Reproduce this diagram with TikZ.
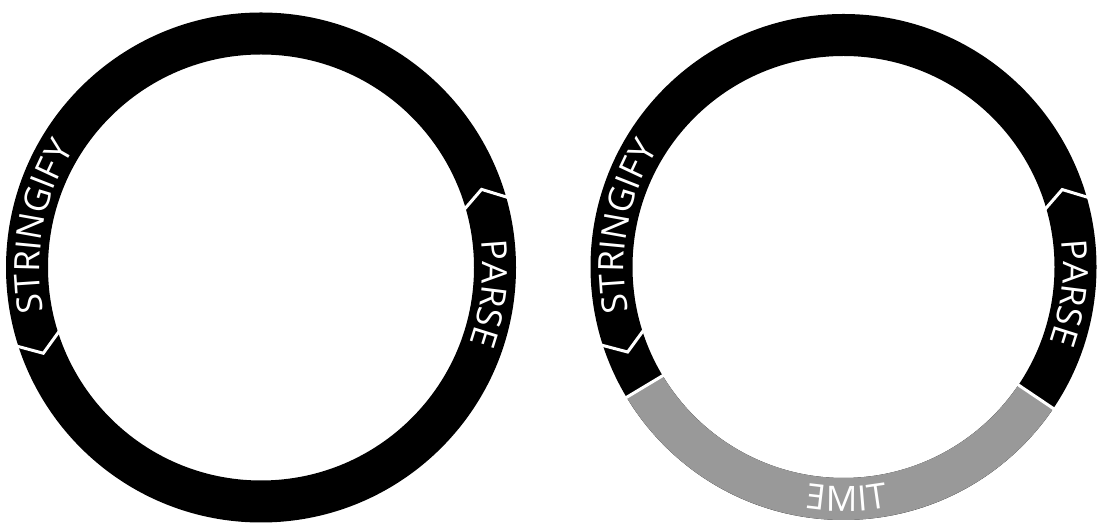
\documentclass[tikz,border=0pt]{standalone}
\usepackage{fontspec}
\newfontfamily\ringfont{Open Sans}
\usetikzlibrary{decorations.text,calc}
\definecolor{timegray}{RGB}{153,153,153}
\tikzset{
  sep/.style={white, line width=3pt, line join=miter},
  ringtext/.style={decorate, decoration={text along path, text align=center,
      text={|\ringfont\fontsize{35}{35}\selectfont\color{white}|#1}}},
  letter/.style={text=white, font=\ringfont\fontsize{35}{35}\selectfont, inner sep=0pt, anchor=center},
}
\begin{document}
\begin{tikzpicture}[x=1pt,y=1pt]
\useasboundingbox (0,0) rectangle (1098,524);
\fill[white] (0,0) rectangle (1098,524);
\coordinate (L) at (261,256.5);
\coordinate (R) at (843.5,257);
% ---------- left ring ----------
\fill[black, even odd rule] (L) circle[radius=255pt] (L) circle[radius=213pt];
\draw[sep] ($(L)+(197.5:259pt)$) -- ($(L)+(201.5:234pt)$) -- ($(L)+(197:209pt)$);
\draw[sep] ($(L)+(15.5:259pt)$) -- ($(L)+(19.5:234pt)$) -- ($(L)+(15.5:209pt)$);
\path[ringtext={STRINGIFY}] ($(L)+(210:221.5pt)$) arc[start angle=210, end angle=129, radius=221.5pt];
\path[ringtext={PARSE}] ($(L)+(33.5:221.5pt)$) arc[start angle=33.5, end angle=-46.5, radius=221.5pt];
% ---------- right ring ----------
\fill[black, even odd rule] (R) circle[radius=253pt] (R) circle[radius=211pt];
\fill[timegray] ($(R)+(211:253pt)$) arc[start angle=211, end angle=326, radius=253pt]
   -- ($(R)+(326:211pt)$) arc[start angle=326, end angle=211, radius=211pt] -- cycle;
\draw[sep] ($(R)+(211:207pt)$) -- ($(R)+(211:257pt)$);
\draw[sep] ($(R)+(326:207pt)$) -- ($(R)+(326:257pt)$);
\draw[sep] ($(R)+(197.5:257pt)$) -- ($(R)+(201.5:232pt)$) -- ($(R)+(197:207pt)$);
\draw[sep] ($(R)+(15.5:257pt)$) -- ($(R)+(19.5:232pt)$) -- ($(R)+(15.5:207pt)$);
\path[ringtext={STRINGIFY}] ($(R)+(210:219.5pt)$) arc[start angle=210, end angle=129, radius=219.5pt];
\path[ringtext={PARSE}] ($(R)+(33.5:219.5pt)$) arc[start angle=33.5, end angle=-46.5, radius=219.5pt];
\node[letter, rotate=-6.67, xscale=-1] (tE) at ($(R)+(263.33:232pt)$) {E};
\node[letter, rotate=-0.44, xscale=-1] (tM) at ($(R)+(269.56:232pt)$) {M};
\node[letter, rotate=4.67, xscale=-1] (tI) at ($(R)+(274.67:232pt)$) {I};
\node[letter, rotate=8.27, xscale=-1] (tT) at ($(R)+(278.27:232pt)$) {T};
\end{tikzpicture}
\end{document}
